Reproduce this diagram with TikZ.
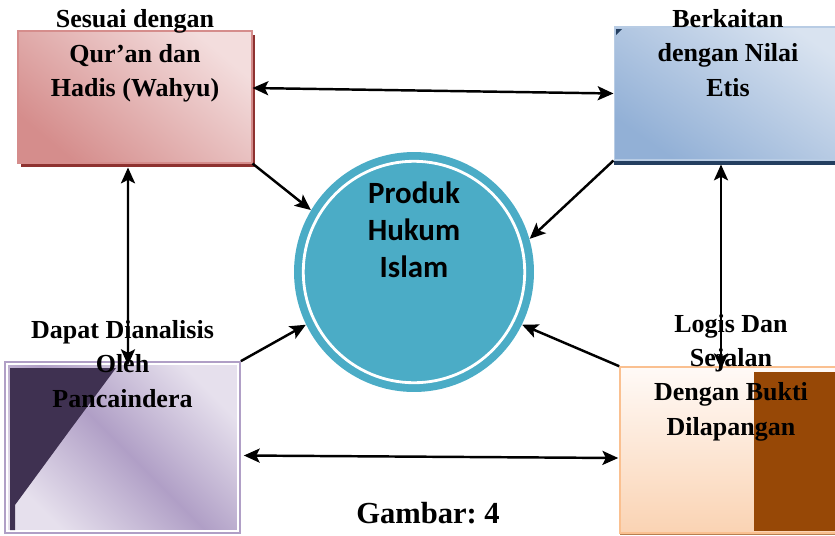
\documentclass[tikz,border=0pt]{standalone}
\usepackage{fontspec}
\setmainfont{Liberation Serif}
\newfontfamily\calfont{Carlito}
\usepackage{tikz}
\usetikzlibrary{arrows.meta,calc,shadows}

\definecolor{pinkdark}{HTML}{D58D8C}
\definecolor{pinklight}{HTML}{F3DDDD}
\definecolor{pinkshadow}{HTML}{8E3230}
\definecolor{bluedark}{HTML}{92B0D6}
\definecolor{bluelight}{HTML}{D9E3F0}
\definecolor{blueline}{HTML}{B8CCE4}
\definecolor{blueshadow}{HTML}{243F60}
\definecolor{purplemid}{HTML}{B09FC6}
\definecolor{purplelight}{HTML}{E6E0ED}
\definecolor{purpledark}{HTML}{3F3151}
\definecolor{peachtop}{HTML}{FFFAF7}
\definecolor{peachbot}{HTML}{FAD3B3}
\definecolor{peachline}{HTML}{FAC090}
\definecolor{brownbar}{HTML}{974806}
\definecolor{circfill}{HTML}{4BACC6}

\begin{document}
\begin{tikzpicture}[
    x=0.02cm, y=-0.02cm,
    % --- node styles ---
    box/.style = {rectangle, inner sep=0pt},
    boxtxt/.style = {font=\fontsize{14.8}{19.6}\selectfont\bfseries,
                     align=center, inner sep=0pt},
    circtxt/.style = {font=\calfont\fontsize{17.6}{21}\selectfont\bfseries,
                      align=center, inner sep=0pt},
    tip/.style = {Stealth[length=9pt,width=8pt,inset=2pt]},
    arrow/.style  = {-{Stealth[length=9pt,width=8pt,inset=2pt]},
                     line width=1.4pt},
    darrow/.style = {{Stealth[length=9pt,width=8pt,inset=2pt]}-{Stealth[length=9pt,width=8pt,inset=2pt]},
                     line width=1.4pt},
]
\useasboundingbox (0,0) rectangle (835,535);
\clip (0,0) rectangle (835,535);

%============ BOXES ============
\node (wahyu) [box, minimum width=4.68cm, minimum height=2.64cm,
  draw=pinkdark, line width=0.6pt,
  top color=pinklight, bottom color=pinkdark, shading angle=-40,
  general shadow={fill=pinkshadow, shadow xshift=0.06cm, shadow yshift=-0.08cm}]
  at (135,97) {};

\node (etis) [box, minimum width=4.8cm, minimum height=2.66cm,
  draw=blueline, line width=0.6pt,
  top color=bluelight, bottom color=bluedark, shading angle=-35,
  general shadow={fill=blueshadow, shadow xshift=0cm, shadow yshift=-0.1cm}]
  at (734,93.5) {};
\fill[blueshadow] (616,29) -- (622,29) -- (616,35) -- cycle;

\node (indera) [box, minimum width=4.7cm, minimum height=3.42cm,
  draw=purplemid, line width=1pt,
  top color=purplelight, bottom color=purplelight, middle color=purplemid,
  shading angle=-45]
  at (122.5,447.5) {};
\draw[white, line width=1.3pt]
  ($(indera.south west)+(3,-3)$) rectangle ($(indera.north east)+(-3,3)$);
\fill[purpledark] (10,368) -- (116,368) -- (70,430) -- (15,505)
  -- (15,530) -- (10,530) -- cycle;

\node (bukti) [box, minimum width=4.8cm, minimum height=3.32cm,
  draw=peachline, line width=0.9pt,
  top color=peachtop, bottom color=peachbot,
  general shadow={fill=brownbar!70, shadow xshift=0cm, shadow yshift=-0.04cm}]
  at (740,450) {};
\fill[brownbar] (754,372) rectangle (860,531);

%============ CENTRE CIRCLE ============
\node (produk) [circle, minimum size=4.8cm, inner sep=0pt, fill=circfill]
  at (414,272) {};
\draw[white, line width=1.6pt] (produk.center) circle[radius=2.215cm];

%============ TEXTS ============
\node (wahyutxt)  [boxtxt] at (135,56)    {Sesuai dengan\\Qur’an dan\\Hadis (Wahyu)};
\node (etistxt)   [boxtxt] at (728,53)    {Berkaitan\\dengan Nilai\\Etis};
\node (inderatxt) [boxtxt] at (122.5,364) {Dapat Dianalisis\\Oleh\\Pancaindera};
\node (buktitxt)  [boxtxt] at (731,377.5) {Logis Dan\\Sejalan\\Dengan Bukti\\Dilapangan};
\node (produktxt) [circtxt] at (414,230)  {Produk\\Hukum\\Islam};
\node (gambar) [font=\fontsize{17.4}{20}\selectfont\bfseries, inner sep=0pt,
  anchor=base] at (428,523) {Gambar:\ 4};

%============ ARROWS ============
\foreach \a/\b in {
  wahyu.south east/produk.149, etis.south west/produk.16,
  indera.north east/produk.206, bukti.north west/produk.-26}
  \draw[arrow] (\a) -- (\b);

\draw[darrow] ($(wahyu.east)+(0,-9)$) -- (etis.west);
\draw[darrow] ($(indera.east)+(3,8)$) -- ($(bukti.west)+(-1,8)$);
\draw[darrow] ($(wahyu.south)+(-7,4)$) -- ($(indera.north)+(5.5,4)$);
\draw[darrow] ($(etis.south)+(-13,4)$) -- ($(bukti.north)+(-19,3)$);

\end{tikzpicture}
\end{document}
